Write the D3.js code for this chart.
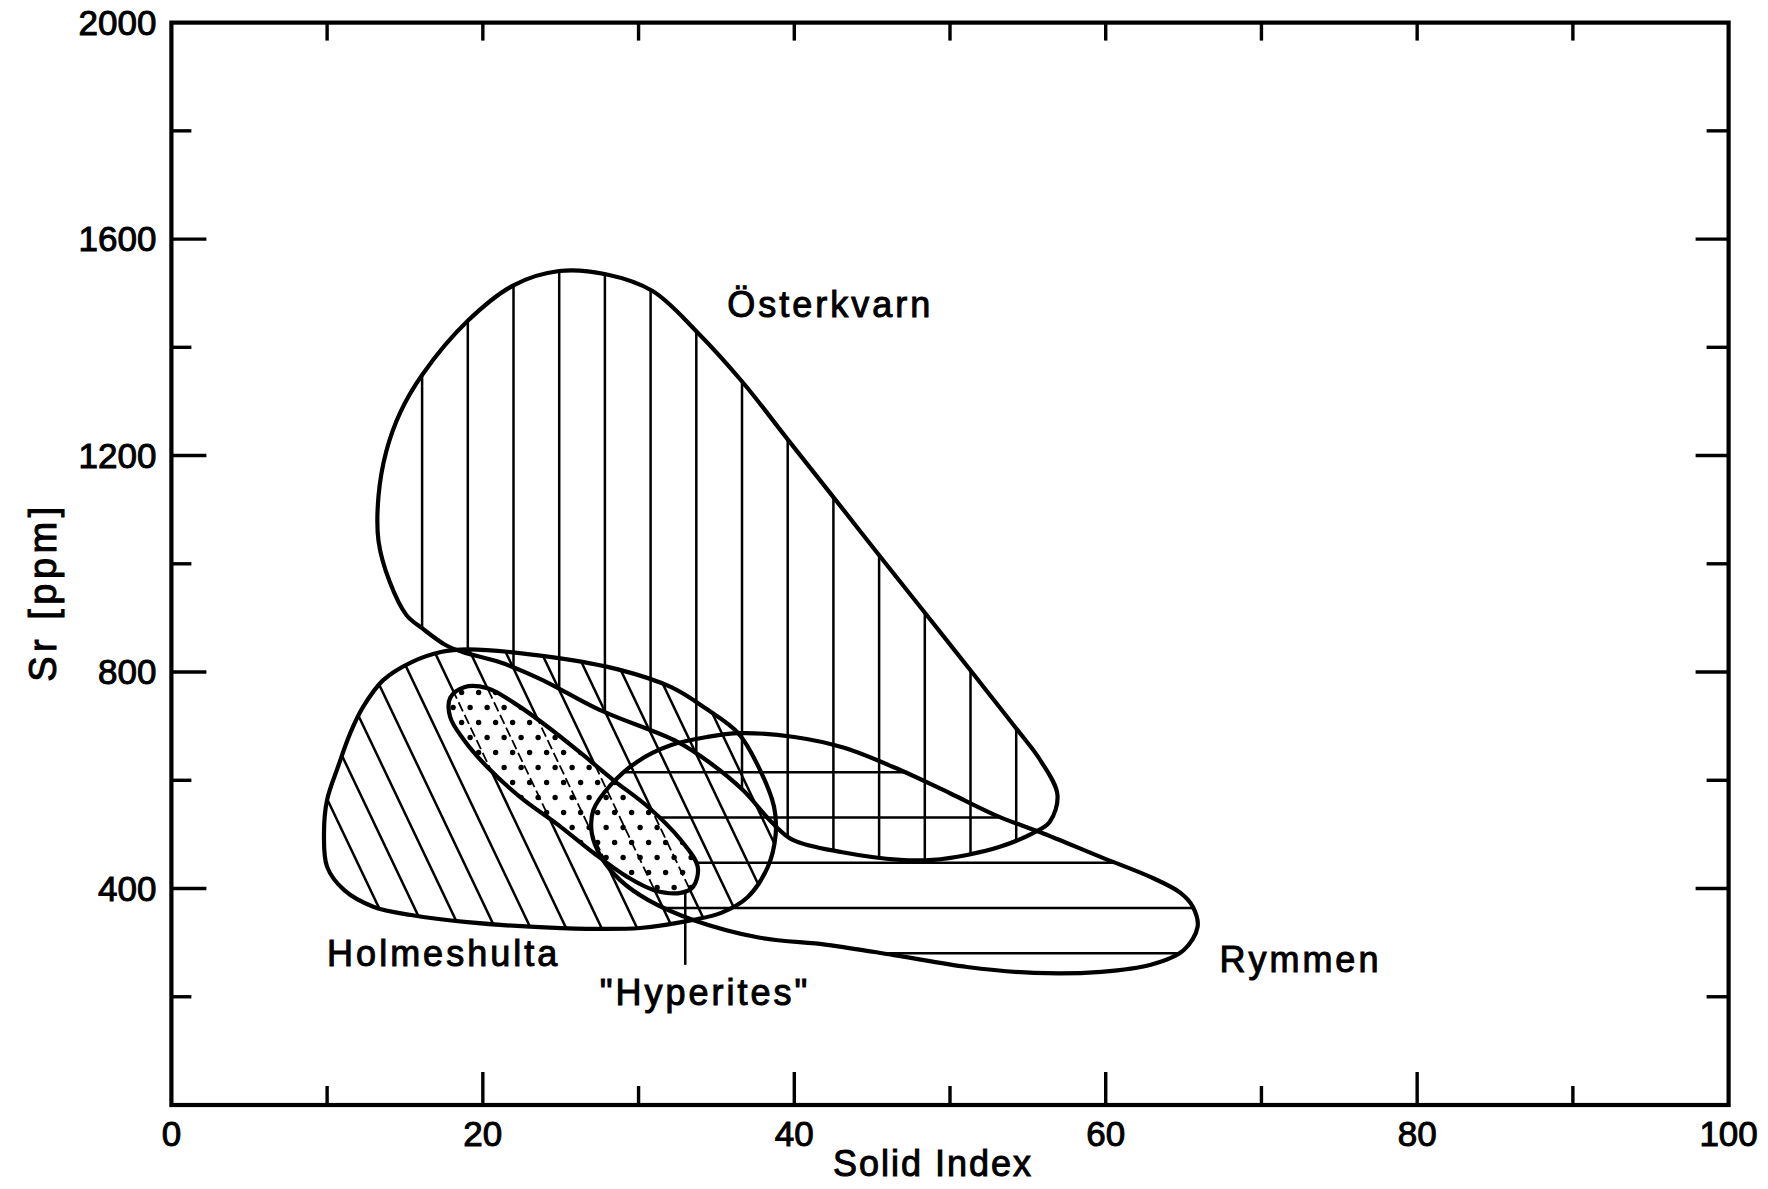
<!DOCTYPE html>
<html>
<head>
<meta charset="utf-8">
<script src="https://cdn.jsdelivr.net/npm/d3@7"></script>
<style>
  body { margin: 0; background: #fff; }
  svg { display: block; }
  text { font-family: "Liberation Sans", Arial, sans-serif; fill: #000; stroke: #000; stroke-width: 1px; }
</style>
</head>
<body>
<svg id="chart" width="1768" height="1189"></svg>
<script>
// axis ticks
var xTickLabels = [0, 20, 40, 60, 80, 100];
var yTickLabels = [400, 800, 1200, 1600, 2000];
var xMinorTicks = d3.range(10, 100, 10);
var yMinorTicks = d3.range(200, 2000, 200);

// field outlines, [Solid Index, Sr ppm]
var osterkvarn = [
  [24.9, 1541], [27.9, 1535], [30.9, 1504], [33.8, 1427], [36.7, 1335], [39.6, 1229],
  [42.6, 1120], [45.5, 1014], [48.4, 909], [51.4, 800], [54.3, 694], [55.8, 637],
  [56.9, 573], [56.4, 523], [55.3, 502], [53.2, 477], [51.1, 462], [48.9, 453],
  [46.8, 453], [43.1, 467], [39.9, 490], [38.6, 521], [36.7, 582], [34.6, 632],
  [32.5, 671], [27.5, 730], [23.7, 787], [21.1, 818], [18.7, 837], [17.6, 850],
  [16.1, 881], [15.1, 905], [14.0, 968], [13.3, 1042], [13.3, 1125], [13.8, 1208],
  [14.7, 1280], [16.1, 1349], [19.0, 1448], [22.0, 1515]
];
var holmeshulta = [
  [19.0, 842], [24.3, 828], [28.8, 804], [32.1, 772], [34.3, 733], [36.4, 687],
  [37.8, 619], [38.7, 551], [38.8, 499], [38.3, 440], [37.0, 384], [35.3, 355],
  [33.5, 342], [30.1, 327], [25.0, 327], [19.0, 338], [15.4, 351], [13.0, 366],
  [11.1, 397], [10.0, 440], [9.8, 503], [10.0, 564], [10.7, 625], [11.5, 688],
  [12.3, 735], [13.6, 785], [15.4, 818], [17.3, 837]
];
var rymmen = [
  [32.1, 665], [29.9, 634], [28.2, 591], [27.1, 545], [27.0, 502], [27.6, 458],
  [28.8, 416], [30.6, 379], [33.5, 342], [37.8, 309], [42.1, 296], [46.4, 277],
  [51.1, 255], [55.4, 244], [59.7, 246], [62.9, 259], [65.0, 286], [65.9, 329],
  [65.6, 366], [64.8, 392], [62.9, 421], [59.7, 458], [55.8, 504], [53.2, 532],
  [50.0, 576], [46.8, 619], [43.2, 660], [40.0, 680], [36.5, 687], [34.4, 680]
];
var hyperites = [
  [17.9, 752], [18.8, 772], [20.3, 770], [22.0, 743], [24.2, 698], [26.3, 650],
  [28.4, 600], [30.6, 551], [32.7, 490], [33.8, 440], [33.5, 403], [32.7, 392],
  [31.0, 397], [29.3, 421], [27.1, 466], [25.0, 514], [22.4, 569], [20.3, 624],
  [18.8, 674], [17.9, 717]
];
var hyperitesPointer = [[33.0, 393], [33.0, 259]];

// field labels
var labelNames = ["Österkvarn", "Holmeshulta", "\"Hyperites\"", "Rymmen"];
var labelPos = [[35.7, 1456], [10.0, 257], [27.5, 185], [67.3, 246]];

var svg = d3.select("#chart");
var plotLeft = 171.4, plotRight = 1728.6, plotTop = 22.6, plotBottom = 1105;

var x = d3.scaleLinear().domain([0, 100]).range([plotLeft, plotRight]);
var y = d3.scaleLinear().domain([0, 2000]).range([plotBottom, plotTop]);

var outline = d3.line()
  .x(function(d) { return x(d[0]); })
  .y(function(d) { return y(d[1]); })
  .curve(d3.curveCatmullRomClosed.alpha(0.5));

var defs = svg.append("defs");
function addClip(id, pts) {
  defs.append("clipPath").attr("id", id).append("path").attr("d", outline(pts));
}
addClip("clip-ost", osterkvarn);
addClip("clip-hol", holmeshulta);
addClip("clip-rym", rymmen);
addClip("clip-hyp", hyperites);

// vertical hatch - Österkvarn
var gOst = svg.append("g").attr("clip-path", "url(#clip-ost)");
d3.range(-1, 17).forEach(function(k) {
  var px = x(16.1) + k * 45.7;
  gOst.append("line").attr("x1", px).attr("x2", px).attr("y1", plotTop).attr("y2", plotBottom)
    .attr("stroke", "#000").attr("stroke-width", 2.5);
});

// horizontal hatch - Rymmen
var gRym = svg.append("g").attr("clip-path", "url(#clip-rym)");
d3.range(-3, 8).forEach(function(k) {
  var py = y(615) + k * 45.3;
  gRym.append("line").attr("x1", plotLeft).attr("x2", plotRight).attr("y1", py).attr("y2", py)
    .attr("stroke", "#000").attr("stroke-width", 2.5);
});

// diagonal hatch - Holmeshulta
var slope = 2.1, y0 = 910;
function diagLines(g, width) {
  d3.range(-25, 25).forEach(function(k) {
    var c = 380 + k * 35.5;
    g.append("line")
      .attr("x1", c + (500 - y0) / slope).attr("y1", 500)
      .attr("x2", c + (1050 - y0) / slope).attr("y2", 1050)
      .attr("stroke", "#000").attr("stroke-width", width);
  });
}
diagLines(svg.append("g").attr("clip-path", "url(#clip-hol)"), 2.5);

// Hyperites: stipple
svg.append("path").attr("d", outline(hyperites)).attr("fill", "#fff");
var gHyp = svg.append("g").attr("clip-path", "url(#clip-hyp)");
d3.range(0, 18).forEach(function(r) {
  d3.range(0, 20).forEach(function(c) {
    gHyp.append("circle")
      .attr("cx", x(17) + c * 17 + (r % 2) * 8.5)
      .attr("cy", y(790) + r * 15)
      .attr("r", 2.7).attr("fill", "#000");
  });
});
diagLines(gHyp.append("g").attr("stroke-dasharray", "10,4"), 1.8);

// outlines
[osterkvarn, holmeshulta, rymmen, hyperites].forEach(function(pts) {
  svg.append("path").attr("d", outline(pts))
    .attr("fill", "none").attr("stroke", "#000").attr("stroke-width", 4.2)
    .attr("stroke-linejoin", "round");
});

svg.append("line")
  .attr("x1", x(hyperitesPointer[0][0])).attr("y1", y(hyperitesPointer[0][1]))
  .attr("x2", x(hyperitesPointer[1][0])).attr("y2", y(hyperitesPointer[1][1]))
  .attr("stroke", "#000").attr("stroke-width", 2.5);

// frame
svg.append("rect").attr("x", plotLeft).attr("y", plotTop)
  .attr("width", plotRight - plotLeft).attr("height", plotBottom - plotTop)
  .attr("fill", "none").attr("stroke", "#000").attr("stroke-width", 4.2);

var ticks = svg.append("g").attr("stroke", "#000").attr("stroke-width", 3.4);
xMinorTicks.forEach(function(v) {
  var len = v % 20 === 0 ? 33 : 19;
  ticks.append("line").attr("x1", x(v)).attr("x2", x(v)).attr("y1", plotBottom).attr("y2", plotBottom - len);
  ticks.append("line").attr("x1", x(v)).attr("x2", x(v)).attr("y1", plotTop).attr("y2", plotTop + 18);
});
yMinorTicks.forEach(function(v) {
  var lenL = v % 400 === 0 ? 35 : 20;
  var lenR = v % 400 === 0 ? 33 : 22;
  ticks.append("line").attr("x1", plotLeft).attr("x2", plotLeft + lenL).attr("y1", y(v)).attr("y2", y(v));
  ticks.append("line").attr("x1", plotRight).attr("x2", plotRight - lenR).attr("y1", y(v)).attr("y2", y(v));
});

// tick labels
svg.selectAll(".xl").data(xTickLabels).enter().append("text")
  .attr("x", function(d) { return x(d); }).attr("y", plotBottom + 41)
  .attr("text-anchor", "middle").attr("font-size", 35)
  .text(function(d) { return d; });
svg.selectAll(".yl").data(yTickLabels).enter().append("text")
  .attr("x", plotLeft - 15).attr("y", function(d) { return y(d) + 12; })
  .attr("text-anchor", "end").attr("font-size", 35)
  .text(function(d) { return d; });

// axis titles
svg.append("text").attr("x", 933).attr("y", 1176).attr("text-anchor", "middle")
  .attr("font-size", 36).attr("letter-spacing", 2).text("Solid Index");
svg.append("text").attr("transform", "translate(56,592) rotate(-90)")
  .attr("text-anchor", "middle").attr("font-size", 38).attr("letter-spacing", 4.5)
  .text("Sr [ppm]");

// field labels
labelNames.forEach(function(name, i) {
  svg.append("text").attr("x", x(labelPos[i][0])).attr("y", y(labelPos[i][1]))
    .attr("font-size", 36).attr("letter-spacing", 3).text(name);
});
</script>
</body>
</html>
